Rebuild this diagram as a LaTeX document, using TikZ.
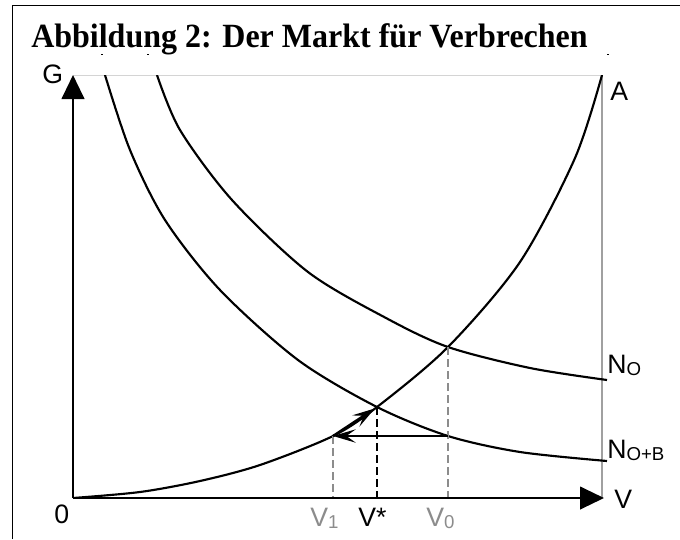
\documentclass[tikz,border=0pt]{standalone}
\usepackage{fontspec}
\setmainfont{Liberation Sans}
\newfontfamily\titlefont{Liberation Serif}
\usetikzlibrary{arrows.meta,positioning}

\definecolor{boxgrey}{HTML}{D4D4D4}
\definecolor{rimgrey}{HTML}{A0A0A0}
\definecolor{dashgrey}{HTML}{8C8C8C}

\tikzset{
  curve/.style={line width=1.6pt},
  axis/.style={line width=1.6pt, -{Triangle[length=18pt,width=17pt]}},
  guide/.style={dashgrey, line width=1.2pt, dash pattern=on 6pt off 3pt},
  lbl/.style={inner sep=0pt, anchor=base west, font=\fontsize{20}{20}\selectfont},
  move/.style={line width=1.8pt, -{Stealth[length=17pt,width=10pt,inset=7pt]}},
}
\newcommand{\low}[1]{\raisebox{-1.5pt}{\fontsize{14}{14}\selectfont #1}}

\begin{document}
\begin{tikzpicture}[x=0.75pt, y=-0.75pt]
\useasboundingbox (0,0) rectangle (680,539);

% frame and title
\draw[line width=0.9pt] (12.5,539) -- (12.5,5.5) -- (680,5.5);
\node[anchor=base west, inner sep=0pt, font=\titlefont\bfseries\fontsize{24}{24}\selectfont] (title) at (31,47) {\scalebox{1}[1.06]{Abbildung 2: Der Markt für Verbrechen}};

% stray bits of the curves under the title
\foreach \sx in {101,147,607}
  \fill (\sx,53.5) rectangle ++(2,1.2);

% points on the curves
\coordinate (O) at (73,498);
\coordinate (Gtip) at (73,75);
\coordinate (Vtip) at (604,498);
\coordinate (Atop) at (602,75);
\coordinate (E) at (377,407);
\coordinate (P1) at (333,436);
\coordinate (P0) at (448,436);
\coordinate (Q0) at (448,347);
\coordinate (F1) at (333,498);
\coordinate (Fs) at (377,498);
\coordinate (F0) at (448,498);

% grey box
\draw[boxgrey, line width=0.75pt] (Gtip) -- (Atop);
\draw[rimgrey, line width=1.2pt] (Atop) -- (602,498);

% curves
\begin{scope}
\clip (73,75) rectangle (612,498);
\draw[curve] plot[smooth] coordinates {(73,498) (140,492) (200,481) (260,465) (333,436) (377,407) (448,347) (520,262) (575,158) (602,75)};
\draw[curve] plot[smooth] coordinates {(105,75) (130,150) (165,220) (220,290) (298,360) (377,407) (448,436) (520,452) (607,461)};
\draw[curve] plot[smooth] coordinates {(157,75) (180,130) (232,200) (308,272) (386,318) (448,347) (530,368) (607,380)};
\end{scope}

% guides
\draw[guide] (P1) -- (F1);
\draw[guide] (Q0) -- (F0);
\draw[guide, black, line width=1.6pt] (E) -- (Fs);

% axes
\draw[axis] (O) -- (Gtip);
\draw[axis] (O) -- (Vtip);

% moves
\draw[move] (P0) -- (P1);
\draw[move, shorten >=2pt] (P1) -- (E);

% labels
\node[lbl] (Glbl) at (42,83) {G};
\node[lbl] (Albl) at (610,100) {A};
\node[lbl] (NOlbl) at (607,373) {N\low{O}};
\node[lbl] (NOBlbl) at (607,458) {N\low{O+B}};
\node[lbl] (Vlbl) at (614,508) {V};
\node[lbl] (zero) at (54,523) {0};
\node[lbl, dashgrey] (V1lbl) at (310,526) {V\low{1}};
\node[lbl] (Vstar) at (358,526) {V*};
\node[lbl, dashgrey] (V0lbl) at (426,526) {V\low{0}};
\end{tikzpicture}
\end{document}
